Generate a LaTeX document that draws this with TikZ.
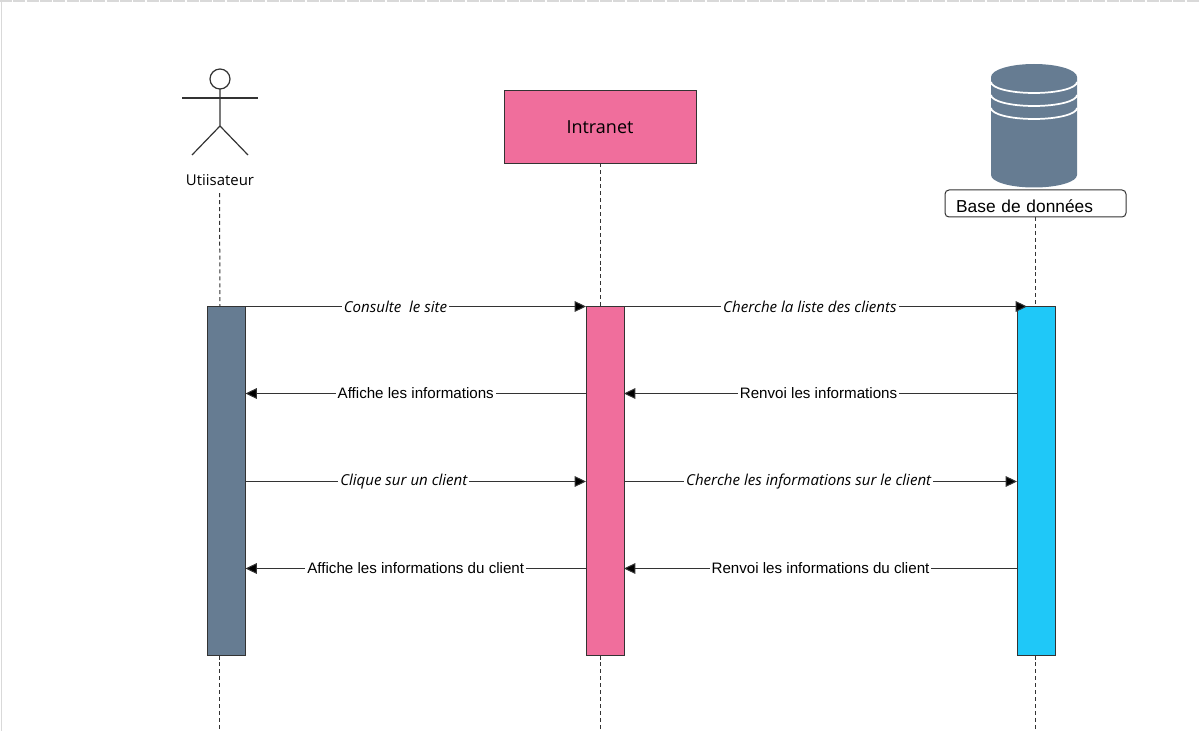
\documentclass[tikz,border=0pt]{standalone}
\usepackage{fontspec}
\setmainfont{Open Sans}
\newfontfamily\helvfont{Liberation Sans}
\usetikzlibrary{arrows.meta}
\definecolor{slateblue}{HTML}{667C92}
\definecolor{rosepink}{HTML}{F06E9C}
\definecolor{skyblue}{HTML}{1FC8F8}
\definecolor{linegray}{HTML}{333333}
\tikzset{
  lifeline/.style={draw=linegray, line width=0.75pt, dash pattern=on 3pt off 2.2pt},
  bar/.style={draw=linegray, line width=0.75pt, minimum width=28.5pt, minimum height=261.75pt, outer sep=0pt, inner sep=0pt},
  msg/.style={draw=linegray, line width=0.75pt, -{Triangle[length=8.5pt,width=8pt,fill=black]}},
  msglabel/.style={fill=white, inner xsep=1.5pt, inner ysep=1pt, font=\helvfont\fontsize{11.35}{13}\selectfont},
  msgcall/.style={msglabel, font=\itshape\fontsize{11.3}{13}\selectfont},
  stick/.style={draw=linegray, line width=0.9pt},
}
\begin{document}
\begin{tikzpicture}[x=0.75pt, y=-0.75pt]
  \useasboundingbox (0,0) rectangle (1200,731);
  % bord de page
  \draw[gray!30, line width=1pt] (1.5,0) -- (1.5,731);
  \draw[gray!30, line width=1.6pt, dash pattern=on 9pt off 1pt] (0,1) -- (1200,1);
  % acteur
  \draw[stick] (220,79) circle (10);
  \draw[stick] (182,98) -- (258,98);
  \draw[stick] (220,89) -- (220,126) -- (192,155);
  \draw[stick] (220,126) -- (248,155);
  \node[inner sep=1pt, font=\fontsize{11.2}{13}\selectfont] (lblUser) at (220,180) {Utiisateur};
  % base de donnees
  \fill[slateblue] (991,77) -- (991,175) arc[start angle=180, end angle=0, x radius=43, y radius=12.5]
    -- (1077,77) arc[start angle=0, end angle=-180, x radius=43, y radius=13] -- cycle;
  \foreach \yy in {82,95,108}
    \draw[white, line width=1.3pt] (991,\yy) arc[start angle=180, end angle=0, x radius=43, y radius=11];
  \node[draw=linegray, line width=0.75pt, rounded corners=3pt, minimum width=135.75pt, minimum height=20.25pt,
    text width=119pt, align=left, text height=14pt, text depth=0pt, inner sep=0pt, outer sep=0pt,
    font=\helvfont\fontsize{13}{15}\selectfont] (boxBase) at (1035.5,203.5) {Base de donn\'ees};
  % intranet
  \node[draw=linegray, line width=0.75pt, fill=rosepink, minimum width=144pt, minimum height=54.75pt, inner sep=0pt, outer sep=0pt,
    font=\fontsize{13.5}{15}\selectfont] (boxIntranet) at (600,127) {Intranet};
  % barres d'activation
  \node[bar, fill=slateblue] (barUser) at (226.5,481) {};
  \node[bar, fill=rosepink] (barIntranet) at (605,481) {};
  \node[bar, fill=skyblue] (barBase) at (1036,481) {};
  % fins de lignes de vie
  \coordinate (endUser) at (219.5,731);
  \coordinate (endIntranet) at (600,731);
  \coordinate (endBase) at (1035.5,731);
  \draw[lifeline] (lblUser.south) ++(-0.5,6) -- (lblUser.south |- barUser.north);
  \draw[lifeline] (boxIntranet.south) -- (boxIntranet.south |- barIntranet.north);
  \draw[lifeline] (boxBase.south) -- (boxBase.south |- barBase.north);
  \draw[lifeline] (endUser |- barUser.south) -- (endUser);
  \draw[lifeline] (endIntranet |- barIntranet.south) -- (endIntranet);
  \draw[lifeline] (endBase |- barBase.south) -- (endBase);
  % rangees des messages
  \coordinate (rowA) at (0,393.5);
  \coordinate (rowB) at (0,481.5);
  \coordinate (rowC) at (0,568.5);
  % messages
  \draw[msg] (barUser.north) -- node[msgcall, pos=0.47] {Consulte\ \ le site} (barIntranet.north west);
  \draw[msg] ([xshift=7.5pt]barIntranet.north) -- node[msgcall, pos=0.473] {Cherche la liste des clients} ([xshift=7.5pt]barBase.north west);
  \draw[msg] (barIntranet.west |- rowA) -- node[msglabel] {Affiche les informations} (barUser.east |- rowA);
  \draw[msg] (barBase.west |- rowA) -- node[msglabel, pos=0.505] {Renvoi les informations} (barIntranet.east |- rowA);
  \draw[msg] (barUser.east |- rowB) -- node[msgcall, pos=0.465] {Clique sur un client} (barIntranet.west |- rowB);
  \draw[msg] (barIntranet.east |- rowB) -- node[msgcall, pos=0.47] {Cherche les informations sur le client} (barBase.west |- rowB);
  \draw[msg] (barIntranet.west |- rowC) -- node[msglabel] {Affiche les informations du client} (barUser.east |- rowC);
  \draw[msg] (barBase.west |- rowC) -- node[msglabel] {Renvoi les informations du client} (barIntranet.east |- rowC);
\end{tikzpicture}
\end{document}
